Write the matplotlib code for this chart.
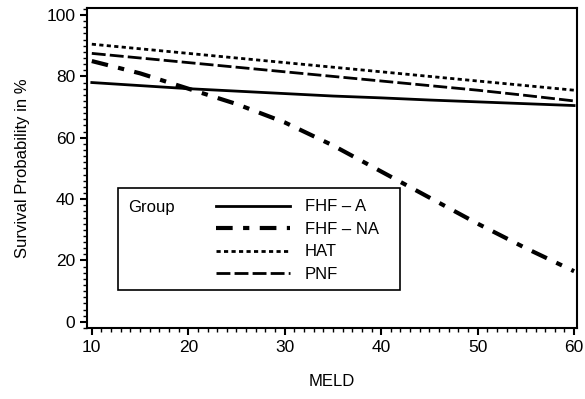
import matplotlib
matplotlib.use("Agg")
import matplotlib.pyplot as plt
from matplotlib.ticker import MultipleLocator
from matplotlib.patches import Rectangle

plt.rcParams['font.family'] = ['Liberation Sans', 'DejaVu Sans']

# MELD values and survival estimates
meld = [10, 15, 20, 25, 30, 35, 40, 45, 50, 55, 60]
fhf_a = [78.0, 77.0, 76.0, 75.2, 74.4, 73.6, 73.0, 72.3, 71.7, 71.1, 70.5]
fhf_na = [85.0, 81.0, 76.0, 71.0, 65.0, 57.5, 49.0, 40.5, 32.0, 24.0, 16.5]
hat = [90.5, 89.0, 87.5, 86.0, 84.5, 83.0, 81.5, 80.0, 78.5, 77.0, 75.5]
pnf = [87.5, 86.0, 84.5, 83.0, 81.5, 80.0, 78.5, 77.0, 75.5, 73.8, 72.0]

groups = ['FHF – A', 'FHF – NA', 'HAT', 'PNF']

fig = plt.figure(figsize=(5.85, 3.99), dpi=100)
ax = fig.add_axes([0.1487, 0.178, 0.8376, 0.802])

l1, = ax.plot(meld, fhf_a, color='black', lw=2.0, ls='-')
l2, = ax.plot(meld, fhf_na, color='black', lw=3.0, ls=(0, (4, 2.5, 1.5, 2.5)))
l3, = ax.plot(meld, hat, color='black', lw=2.0, ls=(0, (1.5, 1.2)))
l4, = ax.plot(meld, pnf, color='black', lw=2.0, ls=(0, (5, 1.5)))

ax.set_xlim(9.5, 60.3)
ax.set_ylim(-2, 102.3)
ax.xaxis.set_major_locator(MultipleLocator(10))
ax.xaxis.set_minor_locator(MultipleLocator(1))
ax.yaxis.set_major_locator(MultipleLocator(20))
ax.yaxis.set_minor_locator(MultipleLocator(2))
ax.tick_params(which='major', direction='out', length=5, width=1.5, labelsize=12.5)
ax.tick_params(which='minor', direction='out', length=3, width=1)
for s in ax.spines.values():
    s.set_linewidth(1.5)

ax.set_xlabel('MELD', fontsize=12, labelpad=14)
ax.set_ylabel('Survival Probability in %', fontsize=12, labelpad=12)

# legend box with the "Group" caption on the left
ax.add_patch(Rectangle((0.063, 0.119), 0.575, 0.318, transform=ax.transAxes,
                       fill=False, lw=1.2, color='black', zorder=5))
ax.text(0.083, 0.375, 'Group', transform=ax.transAxes, fontsize=12,
        va='center', ha='left')
leg = ax.legend([l1, l2, l3, l4], groups, loc='upper left',
                bbox_to_anchor=(0.263, 0.402), frameon=False, fontsize=12,
                handlelength=4.45, handletextpad=0.9, labelspacing=0.45,
                borderaxespad=0, borderpad=0)

fig.savefig('out.png', dpi=100)
